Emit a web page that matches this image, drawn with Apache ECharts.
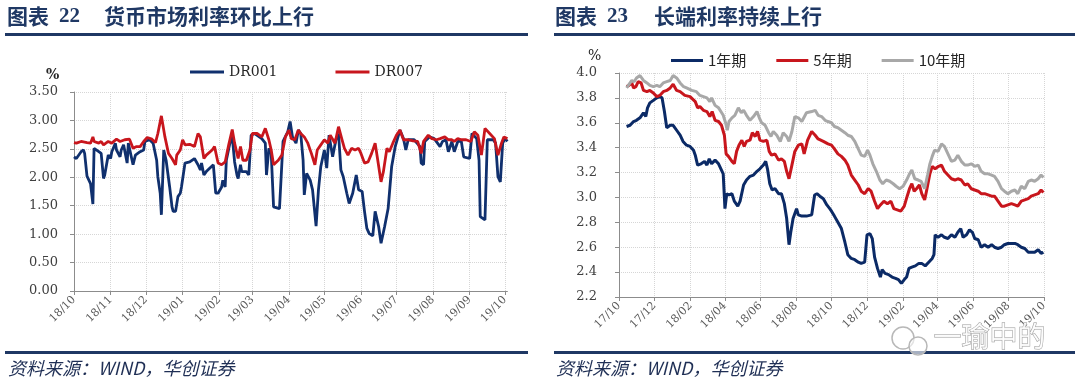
<!DOCTYPE html>
<html><head><meta charset="utf-8">
<script src="https://cdn.jsdelivr.net/npm/echarts@6.0.0/dist/echarts.min.js"></script>
<style>html,body{margin:0;padding:0;background:#fff}#c{width:1080px;height:389px}</style>
</head><body><div id="c"></div><script>
// ---------- data: left chart (DR001 / DR007, %) ----------
const leftRange = ['2018-10-08', '2019-10-10'];
const leftTickDates = ['2018-10-08','2018-11-08','2018-12-08','2019-01-08','2019-02-08','2019-03-08','2019-04-08','2019-05-08','2019-06-08','2019-07-08','2019-08-08','2019-09-08','2019-10-08'];
const leftYTicks = [0, 0.5, 1, 1.5, 2, 2.5, 3, 3.5];
const dr001 = [['2018-10-08',2.36],['2018-10-10',2.33],['2018-10-14',2.45],['2018-10-16',2.48],['2018-10-17',2.42],['2018-10-19',2.02],['2018-10-22',1.89],['2018-10-24',1.53],['2018-10-25',2.51],['2018-10-29',2.45],['2018-10-31',2.42],['2018-11-02',1.98],['2018-11-03',2.04],['2018-11-06',2.39],['2018-11-08',2.33],['2018-11-09',2.45],['2018-11-12',2.60],['2018-11-13',2.48],['2018-11-16',2.36],['2018-11-17',2.48],['2018-11-19',2.57],['2018-11-22',2.25],['2018-11-23',2.60],['2018-11-24',2.63],['2018-11-27',2.22],['2018-11-29',2.39],['2018-12-03',2.45],['2018-12-06',2.48],['2018-12-07',2.63],['2018-12-11',2.66],['2018-12-14',2.60],['2018-12-17',2.30],['2018-12-18',2.01],['2018-12-20',1.72],['2018-12-21',1.34],['2018-12-23',2.48],['2018-12-25',2.30],['2018-12-28',1.83],['2018-12-30',1.48],['2018-12-31',1.40],['2019-01-02',1.40],['2019-01-04',1.66],['2019-01-06',1.72],['2019-01-07',1.83],['2019-01-10',2.25],['2019-01-11',2.22],['2019-01-14',2.27],['2019-01-18',2.33],['2019-01-21',2.22],['2019-01-23',2.13],['2019-01-24',2.25],['2019-01-26',2.04],['2019-01-28',2.10],['2019-02-03',2.22],['2019-02-05',1.72],['2019-02-07',1.72],['2019-02-10',1.83],['2019-02-11',1.95],['2019-02-13',1.83],['2019-02-14',2.30],['2019-02-17',2.60],['2019-02-19',2.71],['2019-02-21',2.27],['2019-02-23',2.04],['2019-02-24',1.98],['2019-02-26',2.22],['2019-02-27',2.10],['2019-03-03',2.10],['2019-03-05',2.04],['2019-03-07',2.74],['2019-03-10',2.77],['2019-03-16',2.68],['2019-03-19',2.60],['2019-03-20',2.04],['2019-03-22',2.51],['2019-03-24',2.42],['2019-03-26',1.48],['2019-03-31',1.45],['2019-04-03',2.63],['2019-04-07',2.80],['2019-04-09',2.98],['2019-04-11',2.71],['2019-04-14',2.60],['2019-04-16',2.83],['2019-04-18',2.77],['2019-04-20',2.30],['2019-04-21',1.69],['2019-04-23',2.07],['2019-04-26',1.95],['2019-04-28',1.78],['2019-05-01',1.14],['2019-05-03',1.78],['2019-05-05',2.19],['2019-05-08',2.48],['2019-05-10',2.16],['2019-05-12',2.74],['2019-05-15',2.36],['2019-05-18',2.68],['2019-05-20',2.77],['2019-05-22',2.13],['2019-05-24',2.01],['2019-05-27',1.72],['2019-05-29',1.54],['2019-06-01',1.72],['2019-06-04',2.04],['2019-06-06',1.78],['2019-06-09',1.75],['2019-06-11',1.40],['2019-06-13',1.10],['2019-06-15',1.01],['2019-06-18',0.97],['2019-06-20',1.40],['2019-06-23',1.13],['2019-06-25',0.84],['2019-06-28',1.13],['2019-07-01',1.45],['2019-07-04',2.19],['2019-07-07',2.54],['2019-07-11',2.83],['2019-07-14',2.68],['2019-07-16',2.48],['2019-07-18',2.66],['2019-07-23',2.66],['2019-07-28',2.54],['2019-07-29',2.25],['2019-07-31',2.22],['2019-08-01',2.63],['2019-08-05',2.71],['2019-08-09',2.68],['2019-08-14',2.54],['2019-08-16',2.63],['2019-08-19',2.66],['2019-08-21',2.45],['2019-08-24',2.63],['2019-08-26',2.45],['2019-08-29',2.63],['2019-09-01',2.63],['2019-09-03',2.36],['2019-09-08',2.33],['2019-09-10',2.77],['2019-09-14',2.68],['2019-09-16',2.30],['2019-09-17',1.31],['2019-09-21',1.25],['2019-09-23',2.66],['2019-09-28',2.66],['2019-09-30',2.60],['2019-10-02',2.01],['2019-10-04',1.92],['2019-10-06',2.60],['2019-10-08',2.68],['2019-10-10',2.63]];
const dr007 = [['2018-10-08',2.61],['2018-10-10',2.60],['2018-10-14',2.63],['2018-10-19',2.61],['2018-10-22',2.60],['2018-10-24',2.71],['2018-10-25',2.63],['2018-10-29',2.60],['2018-10-31',2.63],['2018-11-02',2.57],['2018-11-06',2.63],['2018-11-09',2.60],['2018-11-13',2.67],['2018-11-16',2.63],['2018-11-20',2.66],['2018-11-24',2.67],['2018-11-27',2.51],['2018-11-30',2.54],['2018-12-03',2.54],['2018-12-06',2.63],['2018-12-09',2.70],['2018-12-13',2.67],['2018-12-16',2.61],['2018-12-18',2.77],['2018-12-21',3.08],['2018-12-24',2.71],['2018-12-27',2.42],['2018-12-30',2.33],['2019-01-02',2.22],['2019-01-03',2.39],['2019-01-06',2.48],['2019-01-08',2.66],['2019-01-10',2.57],['2019-01-14',2.58],['2019-01-18',2.54],['2019-01-21',2.77],['2019-01-23',2.71],['2019-01-26',2.33],['2019-01-28',2.39],['2019-02-02',2.48],['2019-02-04',2.54],['2019-02-07',2.25],['2019-02-10',2.22],['2019-02-13',2.27],['2019-02-16',2.57],['2019-02-19',2.84],['2019-02-21',2.60],['2019-02-24',2.33],['2019-02-26',2.54],['2019-02-28',2.30],['2019-03-03',2.30],['2019-03-06',2.48],['2019-03-08',2.77],['2019-03-12',2.77],['2019-03-16',2.71],['2019-03-19',2.86],['2019-03-22',2.66],['2019-03-24',2.48],['2019-03-26',2.22],['2019-03-30',2.30],['2019-04-02',2.39],['2019-04-05',2.71],['2019-04-08',2.83],['2019-04-10',2.68],['2019-04-13',2.66],['2019-04-16',2.83],['2019-04-18',2.77],['2019-04-21',2.71],['2019-04-24',2.60],['2019-04-27',2.42],['2019-04-30',2.22],['2019-05-02',2.48],['2019-05-05',2.57],['2019-05-08',2.66],['2019-05-11',2.60],['2019-05-13',2.74],['2019-05-17',2.60],['2019-05-20',2.89],['2019-05-23',2.66],['2019-05-25',2.51],['2019-05-28',2.39],['2019-05-31',2.51],['2019-06-03',2.48],['2019-06-06',2.51],['2019-06-08',2.42],['2019-06-11',2.25],['2019-06-14',2.27],['2019-06-17',2.42],['2019-06-20',2.60],['2019-06-22',2.33],['2019-06-25',1.92],['2019-06-27',2.10],['2019-06-30',2.51],['2019-07-02',2.45],['2019-07-05',2.60],['2019-07-08',2.74],['2019-07-11',2.83],['2019-07-14',2.66],['2019-07-18',2.66],['2019-07-22',2.64],['2019-07-26',2.63],['2019-07-29',2.42],['2019-07-31',2.63],['2019-08-04',2.74],['2019-08-07',2.68],['2019-08-11',2.66],['2019-08-14',2.68],['2019-08-18',2.71],['2019-08-21',2.66],['2019-08-24',2.66],['2019-08-26',2.63],['2019-08-29',2.68],['2019-09-01',2.66],['2019-09-05',2.66],['2019-09-09',2.63],['2019-09-12',2.80],['2019-09-15',2.74],['2019-09-18',2.39],['2019-09-21',2.86],['2019-09-25',2.77],['2019-09-29',2.68],['2019-10-02',2.39],['2019-10-05',2.60],['2019-10-07',2.71],['2019-10-10',2.68]];

// ---------- data: right chart (treasury yields, %) ----------
const rightRange = ['2017-10-10', '2019-10-10'];
const rightTickDates = ['2017-10-10','2017-12-10','2018-02-10','2018-04-10','2018-06-10','2018-08-10','2018-10-10','2018-12-10','2019-02-10','2019-04-10','2019-06-10','2019-08-10','2019-10-10'];
const rightYTicks = [2.2, 2.4, 2.6, 2.8, 3.0, 3.2, 3.4, 3.6, 3.8, 4.0];
const y1 = [['2017-10-23',3.57],['2017-10-29',3.58],['2017-11-04',3.61],['2017-11-09',3.62],['2017-11-15',3.64],['2017-11-21',3.68],['2017-11-25',3.65],['2017-11-28',3.72],['2017-12-02',3.76],['2017-12-08',3.78],['2017-12-14',3.80],['2017-12-19',3.81],['2017-12-23',3.80],['2017-12-27',3.69],['2017-12-31',3.56],['2018-01-06',3.58],['2018-01-11',3.58],['2018-01-17',3.54],['2018-01-23',3.50],['2018-01-28',3.45],['2018-02-03',3.42],['2018-02-09',3.41],['2018-02-15',3.38],['2018-02-18',3.34],['2018-02-22',3.26],['2018-02-28',3.27],['2018-03-06',3.29],['2018-03-10',3.26],['2018-03-14',3.31],['2018-03-18',3.27],['2018-03-24',3.30],['2018-03-30',3.27],['2018-04-03',3.23],['2018-04-07',3.19],['2018-04-10',2.91],['2018-04-13',3.03],['2018-04-17',3.02],['2018-04-22',3.03],['2018-04-26',2.97],['2018-05-02',2.93],['2018-05-06',2.97],['2018-05-12',3.10],['2018-05-17',3.14],['2018-05-23',3.17],['2018-05-29',3.18],['2018-06-04',3.21],['2018-06-09',3.23],['2018-06-15',3.26],['2018-06-19',3.29],['2018-06-22',3.23],['2018-06-26',3.11],['2018-06-30',3.06],['2018-07-05',3.07],['2018-07-11',3.03],['2018-07-16',3.03],['2018-07-21',2.95],['2018-07-25',2.83],['2018-07-29',2.62],['2018-08-01',2.72],['2018-08-05',2.83],['2018-08-11',2.91],['2018-08-14',2.86],['2018-08-20',2.85],['2018-08-28',2.85],['2018-09-06',2.86],['2018-09-11',3.02],['2018-09-15',3.03],['2018-09-20',3.01],['2018-09-26',2.99],['2018-10-02',2.94],['2018-10-07',2.91],['2018-10-10',2.89],['2018-10-15',2.85],['2018-10-21',2.80],['2018-10-27',2.75],['2018-11-02',2.64],['2018-11-07',2.54],['2018-11-13',2.51],['2018-11-19',2.50],['2018-11-25',2.48],['2018-11-30',2.47],['2018-12-06',2.48],['2018-12-10',2.70],['2018-12-15',2.71],['2018-12-19',2.67],['2018-12-23',2.52],['2018-12-28',2.43],['2019-01-02',2.36],['2019-01-05',2.42],['2019-01-10',2.39],['2019-01-16',2.38],['2019-01-22',2.36],['2019-01-28',2.35],['2019-02-02',2.34],['2019-02-07',2.31],['2019-02-12',2.34],['2019-02-16',2.36],['2019-02-20',2.43],['2019-02-25',2.44],['2019-03-03',2.45],['2019-03-09',2.47],['2019-03-14',2.47],['2019-03-20',2.45],['2019-03-26',2.48],['2019-04-01',2.51],['2019-04-04',2.54],['2019-04-06',2.70],['2019-04-11',2.68],['2019-04-17',2.70],['2019-04-22',2.68],['2019-04-28',2.67],['2019-05-04',2.70],['2019-05-10',2.68],['2019-05-15',2.72],['2019-05-20',2.75],['2019-05-24',2.68],['2019-05-30',2.70],['2019-06-04',2.74],['2019-06-09',2.72],['2019-06-13',2.67],['2019-06-19',2.66],['2019-06-24',2.60],['2019-06-30',2.62],['2019-07-06',2.60],['2019-07-12',2.62],['2019-07-17',2.60],['2019-07-23',2.59],['2019-07-29',2.60],['2019-08-03',2.62],['2019-08-09',2.63],['2019-08-15',2.63],['2019-08-21',2.63],['2019-08-26',2.62],['2019-09-01',2.60],['2019-09-07',2.59],['2019-09-13',2.56],['2019-09-18',2.56],['2019-09-24',2.56],['2019-09-30',2.58],['2019-10-05',2.55],['2019-10-09',2.56]];
const y5 = [['2017-10-23',3.89],['2017-10-27',3.90],['2017-11-01',3.92],['2017-11-04',3.88],['2017-11-08',3.89],['2017-11-12',3.93],['2017-11-17',3.92],['2017-11-21',3.86],['2017-11-27',3.85],['2017-12-02',3.86],['2017-12-08',3.84],['2017-12-14',3.81],['2017-12-19',3.82],['2017-12-25',3.85],['2017-12-31',3.86],['2018-01-06',3.88],['2018-01-11',3.91],['2018-01-17',3.86],['2018-01-23',3.85],['2018-01-31',3.82],['2018-02-09',3.81],['2018-02-18',3.77],['2018-02-22',3.72],['2018-02-26',3.73],['2018-03-04',3.70],['2018-03-10',3.69],['2018-03-15',3.65],['2018-03-19',3.69],['2018-03-24',3.62],['2018-03-30',3.61],['2018-04-04',3.58],['2018-04-09',3.50],['2018-04-12',3.35],['2018-04-16',3.33],['2018-04-22',3.29],['2018-04-26',3.27],['2018-04-30',3.37],['2018-05-04',3.42],['2018-05-09',3.46],['2018-05-13',3.41],['2018-05-17',3.45],['2018-05-23',3.46],['2018-05-27',3.52],['2018-06-01',3.49],['2018-06-05',3.53],['2018-06-09',3.46],['2018-06-15',3.45],['2018-06-21',3.46],['2018-06-25',3.37],['2018-06-29',3.34],['2018-07-05',3.35],['2018-07-11',3.30],['2018-07-16',3.31],['2018-07-21',3.29],['2018-07-25',3.21],['2018-07-29',3.15],['2018-08-03',3.26],['2018-08-08',3.37],['2018-08-14',3.42],['2018-08-20',3.43],['2018-08-24',3.35],['2018-08-30',3.46],['2018-09-06',3.53],['2018-09-12',3.50],['2018-09-17',3.47],['2018-09-26',3.45],['2018-10-04',3.43],['2018-10-10',3.42],['2018-10-15',3.39],['2018-10-21',3.35],['2018-10-27',3.33],['2018-11-02',3.30],['2018-11-07',3.26],['2018-11-13',3.18],['2018-11-19',3.14],['2018-11-25',3.10],['2018-11-30',3.05],['2018-12-06',3.03],['2018-12-12',3.07],['2018-12-17',3.05],['2018-12-23',2.97],['2018-12-28',2.91],['2019-01-02',2.94],['2019-01-08',2.97],['2019-01-14',2.95],['2019-01-20',2.97],['2019-01-25',2.91],['2019-01-31',2.90],['2019-02-06',2.89],['2019-02-12',2.93],['2019-02-17',3.01],['2019-02-21',3.07],['2019-02-25',3.11],['2019-03-01',3.05],['2019-03-05',3.07],['2019-03-10',3.10],['2019-03-14',3.03],['2019-03-19',2.98],['2019-03-23',3.07],['2019-03-28',3.19],['2019-04-01',3.25],['2019-04-06',3.23],['2019-04-12',3.25],['2019-04-17',3.26],['2019-04-22',3.21],['2019-04-28',3.18],['2019-05-04',3.15],['2019-05-10',3.14],['2019-05-15',3.15],['2019-05-21',3.14],['2019-05-27',3.10],['2019-06-01',3.11],['2019-06-07',3.07],['2019-06-13',3.06],['2019-06-19',3.05],['2019-06-24',3.03],['2019-06-30',3.03],['2019-07-06',3.02],['2019-07-12',3.01],['2019-07-17',3.01],['2019-07-23',2.97],['2019-07-29',2.93],['2019-08-03',2.93],['2019-08-09',2.94],['2019-08-15',2.95],['2019-08-21',2.94],['2019-08-26',2.93],['2019-09-01',2.97],['2019-09-07',2.98],['2019-09-13',2.99],['2019-09-18',3.01],['2019-09-24',3.02],['2019-09-30',3.03],['2019-10-05',3.06],['2019-10-09',3.04]];
const y10 = [['2017-10-23',3.88],['2017-10-26',3.90],['2017-11-01',3.94],['2017-11-05',3.93],['2017-11-09',3.96],['2017-11-15',3.98],['2017-11-21',3.94],['2017-11-27',3.92],['2017-12-02',3.90],['2017-12-08',3.89],['2017-12-14',3.90],['2017-12-19',3.89],['2017-12-25',3.92],['2017-12-31',3.93],['2018-01-06',3.94],['2018-01-11',3.98],['2018-01-17',3.96],['2018-01-23',3.92],['2018-01-29',3.89],['2018-02-03',3.88],['2018-02-12',3.86],['2018-02-20',3.85],['2018-02-26',3.82],['2018-03-04',3.81],['2018-03-10',3.80],['2018-03-15',3.77],['2018-03-18',3.80],['2018-03-24',3.74],['2018-03-30',3.72],['2018-04-03',3.69],['2018-04-07',3.66],['2018-04-11',3.60],['2018-04-14',3.54],['2018-04-17',3.61],['2018-04-22',3.64],['2018-04-27',3.66],['2018-05-03',3.72],['2018-05-08',3.68],['2018-05-12',3.70],['2018-05-17',3.66],['2018-05-23',3.62],['2018-05-29',3.65],['2018-06-04',3.69],['2018-06-08',3.64],['2018-06-12',3.60],['2018-06-18',3.58],['2018-06-24',3.52],['2018-06-28',3.49],['2018-07-02',3.53],['2018-07-08',3.50],['2018-07-14',3.45],['2018-07-19',3.52],['2018-07-25',3.49],['2018-07-29',3.45],['2018-08-03',3.53],['2018-08-08',3.65],['2018-08-14',3.64],['2018-08-20',3.61],['2018-08-28',3.68],['2018-09-06',3.69],['2018-09-12',3.70],['2018-09-17',3.66],['2018-09-23',3.65],['2018-09-29',3.62],['2018-10-04',3.61],['2018-10-10',3.60],['2018-10-15',3.57],['2018-10-21',3.56],['2018-10-27',3.54],['2018-11-02',3.52],['2018-11-07',3.50],['2018-11-13',3.49],['2018-11-19',3.45],['2018-11-25',3.39],['2018-11-30',3.34],['2018-12-06',3.33],['2018-12-11',3.38],['2018-12-15',3.34],['2018-12-20',3.27],['2018-12-26',3.21],['2019-01-01',3.14],['2019-01-06',3.11],['2019-01-12',3.14],['2019-01-18',3.13],['2019-01-24',3.11],['2019-01-29',3.09],['2019-02-04',3.07],['2019-02-10',3.09],['2019-02-16',3.14],['2019-02-21',3.19],['2019-02-25',3.22],['2019-03-02',3.15],['2019-03-08',3.14],['2019-03-13',3.13],['2019-03-19',3.07],['2019-03-24',3.18],['2019-03-28',3.27],['2019-04-01',3.33],['2019-04-05',3.38],['2019-04-11',3.37],['2019-04-17',3.43],['2019-04-22',3.41],['2019-04-28',3.35],['2019-05-04',3.29],['2019-05-10',3.30],['2019-05-15',3.34],['2019-05-21',3.29],['2019-05-27',3.26],['2019-06-01',3.26],['2019-06-07',3.27],['2019-06-13',3.25],['2019-06-19',3.26],['2019-06-24',3.21],['2019-06-30',3.19],['2019-07-06',3.19],['2019-07-12',3.18],['2019-07-17',3.17],['2019-07-23',3.13],['2019-07-29',3.07],['2019-08-03',3.05],['2019-08-09',3.03],['2019-08-15',3.05],['2019-08-21',3.06],['2019-08-26',3.03],['2019-09-01',3.09],['2019-09-07',3.07],['2019-09-13',3.13],['2019-09-18',3.14],['2019-09-24',3.13],['2019-09-30',3.15],['2019-10-05',3.18],['2019-10-09',3.16]];

// ---------- helpers ----------
function dayList(a, b) {
  const p = s => Date.UTC(+s.slice(0,4), +s.slice(5,7)-1, +s.slice(8,10));
  const out = []; for (let t = p(a); t <= p(b); t += 86400000) out.push(new Date(t).toISOString().slice(0,10));
  return out;
}
const leftCats = dayList(leftRange[0], leftRange[1]);
const rightCats = dayList(rightRange[0], rightRange[1]);
function toIdx(cats, pairs) { const m = {}; cats.forEach((c,i) => m[c] = i); return pairs.map(p => [m[p[0]], p[1]]); }
const leftSet = new Set(leftTickDates), rightSet = new Set(rightTickDates);
const ym = v => v.slice(2,4) + '/' + v.slice(5,7);

const AX = '#8c8c8c', GRID = '#d6d6d6', NAVY = '#1f3864';
function xAxisCfg(gi, cats, set) {
  const f = (i, v) => set.has(v);
  return { type:'category', gridIndex:gi, data:cats, boundaryGap:false,
    axisLine:{lineStyle:{color:AX, width:1}},
    axisTick:{show:true, interval:f, length:4, lineStyle:{color:AX}},
    axisLabel:{interval:f, rotate:45, formatter:ym, color:'#595959', fontFamily:'DejaVu Serif', fontSize:11, margin:7},
    splitLine:{show:true, interval:f, lineStyle:{type:'dotted', color:GRID}} };
}
function yAxisCfg(gi, ticks, dec, margin) {
  return { type:'value', gridIndex:gi, min:ticks[0], max:ticks[ticks.length-1], interval:+(ticks[1]-ticks[0]).toFixed(2),
    axisLine:{show:true, lineStyle:{color:AX}}, axisTick:{show:true, length:4, lineStyle:{color:AX}},
    axisLabel:{formatter:v => v.toFixed(dec), color:'#404040', fontFamily:'DejaVu Serif', fontSize:13, margin:margin},
    splitLine:{show:true, lineStyle:{type:'dotted', color:GRID}} };
}
const lineS = (name, xi, data, color, w) => ({ name, type:'line', xAxisIndex:xi, yAxisIndex:xi, data, showSymbol:false,
  symbol:'none', lineStyle:{width:w, color}, itemStyle:{color}, emphasis:{disabled:true} });

const chart = echarts.init(document.getElementById('c'));
chart.setOption({
  animation:false, backgroundColor:'#fff',
  grid:[{left:74, top:92, width:433.4, height:199}, {left:619, top:73, width:425, height:224}],
  xAxis:[xAxisCfg(0, leftCats, leftSet), xAxisCfg(1, rightCats, rightSet)],
  yAxis:[yAxisCfg(0, leftYTicks, 2, 16), yAxisCfg(1, rightYTicks, 1, 22)],
  legend:[
    {data:['DR001','DR007'], left:185, top:60, itemWidth:34, itemHeight:3, itemGap:58, icon:'rect',
     textStyle:{fontFamily:'DejaVu Serif', fontSize:14, color:'#262626'}},
    {data:['1年期','5年期','10年期'], left:666, top:48, itemWidth:32, itemHeight:3, itemGap:30, icon:'rect',
     textStyle:{fontFamily:'Noto Sans CJK SC', fontSize:15, color:'#262626'}}
  ],
  series:[
    lineS('DR001', 0, toIdx(leftCats, dr001), '#10306e', 2.8),
    lineS('DR007', 0, toIdx(leftCats, dr007), '#c8161d', 2.8),
    lineS('1年期', 1, toIdx(rightCats, y1), '#0b2a66', 3),
    lineS('5年期', 1, toIdx(rightCats, y5), '#c8161d', 3),
    lineS('10年期', 1, toIdx(rightCats, y10), '#a8a8a8', 3)
  ],
  graphic:[
    {type:'text', left:7, top:6, style:{text:'图表', font:'bold 21px "Noto Sans CJK SC"', fill:NAVY}},
    {type:'text', left:59, top:6, style:{text:'22', font:'bold 21px "Liberation Serif"', fill:NAVY}},
    {type:'text', left:104, top:6, style:{text:'货币市场利率环比上行', font:'bold 21px "Noto Sans CJK SC"', fill:NAVY}},
    {type:'text', left:555, top:6, style:{text:'图表', font:'bold 21px "Noto Sans CJK SC"', fill:NAVY}},
    {type:'text', left:607, top:6, style:{text:'23', font:'bold 21px "Liberation Serif"', fill:NAVY}},
    {type:'text', left:654, top:6, style:{text:'长端利率持续上行', font:'bold 21px "Noto Sans CJK SC"', fill:NAVY}},
    {type:'rect', shape:{x:5, y:33, width:523, height:3}, style:{fill:NAVY}},
    {type:'rect', shape:{x:554, y:33, width:521, height:3}, style:{fill:NAVY}},
    {type:'rect', shape:{x:5, y:351, width:523, height:3}, style:{fill:NAVY}},
    {type:'rect', shape:{x:554, y:351, width:521, height:3}, style:{fill:NAVY}},
    {type:'text', left:46, top:68, style:{text:'%', font:'bold 14px "DejaVu Serif"', fill:'#262626'}},
    {type:'text', left:588, top:49, style:{text:'%', font:'14px "DejaVu Serif"', fill:'#262626'}},
    {type:'text', left:8, top:359, style:{text:'资料来源：WIND，华创证券', font:'italic 18px "Noto Sans CJK SC"', fill:'#1f2f55'}},
    {type:'text', left:556, top:359, style:{text:'资料来源：WIND，华创证券', font:'italic 18px "Noto Sans CJK SC"', fill:'#1f2f55'}},
    {type:'circle', shape:{cx:903, cy:338, r:11}, style:{fill:'rgba(255,255,255,0.6)', stroke:'#b8b8b8', lineWidth:1.5}, z:100},
    {type:'circle', shape:{cx:918, cy:346, r:9}, style:{fill:'rgba(255,255,255,0.6)', stroke:'#b8b8b8', lineWidth:1.5}, z:100},
    {type:'text', left:933, top:322, z:100, style:{text:'一瑜中的', font:'28px "Noto Sans CJK SC"', fill:'rgba(255,255,255,0.85)', stroke:'#9a9a9a', lineWidth:1}}
  ]
});
</script></body></html>
